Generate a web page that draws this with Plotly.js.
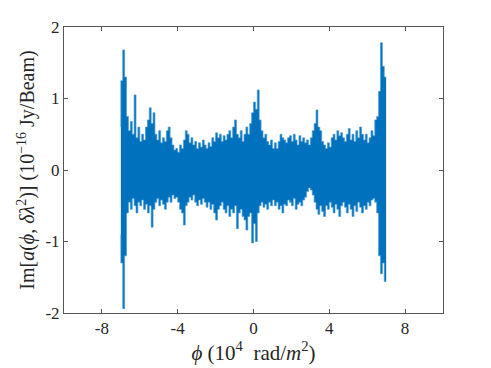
<!DOCTYPE html>
<html>
<head>
<meta charset="utf-8">
<script src="https://cdn.plot.ly/plotly-3.0.1.min.js"></script>
<style>
  html, body { margin: 0; padding: 0; background: #fff; }
  #plot { width: 491px; height: 368px; }
</style>
</head>
<body>
<div id="plot"></div>
<script>
// Faraday depth grid (10^4 rad/m^2), 0.1 step from -7 to 7
const phi = [
  -7.0, -6.9, -6.8, -6.7, -6.6, -6.5, -6.4, -6.3, -6.2, -6.1,
  -6.0, -5.9, -5.8, -5.7, -5.6, -5.5, -5.4, -5.3, -5.2, -5.1,
  -5.0, -4.9, -4.8, -4.7, -4.6, -4.5, -4.4, -4.3, -4.2, -4.1,
  -4.0, -3.9, -3.8, -3.7, -3.6, -3.5, -3.4, -3.3, -3.2, -3.1,
  -3.0, -2.9, -2.8, -2.7, -2.6, -2.5, -2.4, -2.3, -2.2, -2.1,
  -2.0, -1.9, -1.8, -1.7, -1.6, -1.5, -1.4, -1.3, -1.2, -1.1,
  -1.0, -0.9, -0.8, -0.7, -0.6, -0.5, -0.4, -0.3, -0.2, -0.1,
  0.0, 0.1, 0.2, 0.3, 0.4, 0.5, 0.6, 0.7, 0.8, 0.9,
  1.0, 1.1, 1.2, 1.3, 1.4, 1.5, 1.6, 1.7, 1.8, 1.9,
  2.0, 2.1, 2.2, 2.3, 2.4, 2.5, 2.6, 2.7, 2.8, 2.9,
  3.0, 3.1, 3.2, 3.3, 3.4, 3.5, 3.6, 3.7, 3.8, 3.9,
  4.0, 4.1, 4.2, 4.3, 4.4, 4.5, 4.6, 4.7, 4.8, 4.9,
  5.0, 5.1, 5.2, 5.3, 5.4, 5.5, 5.6, 5.7, 5.8, 5.9,
  6.0, 6.1, 6.2, 6.3, 6.4, 6.5, 6.6, 6.7, 6.8, 6.9,
  7.0
];

// upper / lower excursions of Im[a] (10^-16 Jy/Beam)
const upper = [
  0.6, 1.25, 1.68, 1.3, 0.75, 0.55, 0.68, 0.5, 1.05, 0.45,
  0.6, 0.4, 0.5, 0.42, 0.6, 0.7, 0.87, 0.65, 0.8, 0.5,
  0.42, 0.55, 0.38, 0.45, 0.4, 0.55, 0.6, 0.45, 0.35, 0.28,
  0.3, 0.25, 0.35, 0.3, 0.42, 0.55, 0.5, 0.38, 0.45, 0.35,
  0.4, 0.3, 0.38, 0.32, 0.42, 0.35, 0.3, 0.38, 0.33, 0.45,
  0.4, 0.52, 0.45, 0.5, 0.4, 0.48, 0.42, 0.5, 0.55, 0.45,
  0.6, 0.7, 0.5, 0.45, 0.55, 0.4, 0.5, 0.6, 0.5, 0.65,
  0.8, 0.95, 0.85, 1.12, 0.7, 0.55, 0.45, 0.5, 0.4, 0.35,
  0.42, 0.3, 0.38, 0.3, 0.4, 0.5, 0.45, 0.42, 0.38, 0.45,
  0.48, 0.4, 0.5, 0.42, 0.35, 0.48, 0.4, 0.45, 0.38, 0.42,
  0.35, 0.45, 0.55, 0.65, 0.84, 0.6, 0.55, 0.4, 0.35, 0.3,
  0.38, 0.32, 0.45, 0.5, 0.42, 0.55, 0.48, 0.52, 0.45, 0.4,
  0.5, 0.58, 0.42, 0.5, 0.4, 0.55, 0.45, 0.6, 0.5, 0.42,
  0.5, 0.38, 0.45, 0.55, 0.48, 0.7, 0.75, 1.1, 1.78, 1.45,
  1.3
];

const lower = [
  -0.9, -1.3, -1.94, -1.2, -0.6, -0.45, -0.55, -0.4, -0.5, -0.6,
  -0.45, -0.5, -0.42, -0.55, -0.48, -0.6, -0.5, -0.8, -0.55, -0.45,
  -0.4, -0.5, -0.42, -0.48, -0.55, -0.45, -0.38, -0.45, -0.35, -0.4,
  -0.38, -0.45, -0.55, -0.6, -0.77, -0.5, -0.45, -0.38, -0.42, -0.35,
  -0.45, -0.5, -0.42, -0.48, -0.4, -0.45, -0.52, -0.45, -0.55, -0.48,
  -0.6, -0.7, -0.55, -0.5, -0.45, -0.55, -0.6, -0.5, -0.65, -0.55,
  -0.6, -0.5, -0.82, -0.6, -0.55, -0.65, -0.7, -0.84, -0.65, -0.6,
  -1.02, -0.75, -1.0, -0.6, -0.5, -0.45, -0.52, -0.48, -0.55, -0.45,
  -0.5, -0.42, -0.5, -0.45, -0.55, -0.5, -0.6, -0.48, -0.5, -0.42,
  -0.45, -0.5, -0.4, -0.55, -0.48, -0.45, -0.5, -0.42, -0.38, -0.3,
  -0.25, -0.28, -0.35, -0.45, -0.55, -0.62, -0.5, -0.58, -0.65, -0.5,
  -0.55, -0.45, -0.52, -0.6, -0.48, -0.55, -0.65, -0.5, -0.45, -0.52,
  -0.6, -0.48, -0.55, -0.65, -0.5, -0.58, -0.45, -0.52, -0.6, -0.5,
  -0.55, -0.45, -0.5, -0.42, -0.4, -0.45, -0.6, -1.2, -1.45, -1.3,
  -1.56
];

const xTicks = [-8, -4, 0, 4, 8];
const yTicks = [-2, -1, 0, 1, 2];

// the noisy trace is drawn as its band: lower edge, then upper edge filled down to it;
// a step shape keeps each sample's excursion as a narrow column
const blue = '#0072BD';
const edge = '#4a9bd4';
const axisColor = '#555555';
const font = {family: 'Liberation Serif, Times New Roman, serif', color: '#262626'};

const data = [
    {x: phi, y: lower, mode: 'lines', line: {color: edge, width: 0.7, shape: 'vh'}, hoverinfo: 'skip'},
    {x: phi, y: upper, mode: 'lines', line: {color: edge, width: 0.7, shape: 'vh'},
     fill: 'tonexty', fillcolor: blue, hoverinfo: 'skip'}
];

const layout = {
    width: 491,
    height: 368,
    margin: {l: 64, r: 48, t: 27, b: 55},
    paper_bgcolor: '#fff',
    plot_bgcolor: '#fff',
    showlegend: false,
    font: Object.assign({size: 17}, font),
    xaxis: {
        range: [-10, 10],
        tickvals: xTicks,
        ticktext: xTicks.map(String),
        ticks: 'inside', ticklen: 4, tickcolor: axisColor,
        showline: true, mirror: 'ticks', linecolor: axisColor, linewidth: 1,
        showgrid: false, zeroline: false,
        title: {text: '<i>ϕ</i> (10<sup>4</sup>  rad/<i>m</i><sup>2</sup>)', font: Object.assign({size: 21}, font), standoff: 3}
    },
    yaxis: {
        range: [-2, 2],
        tickvals: yTicks,
        ticktext: yTicks.map(String),
        ticks: 'inside', ticklen: 4, tickcolor: axisColor,
        showline: true, mirror: 'ticks', linecolor: axisColor, linewidth: 1,
        showgrid: false, zeroline: false,
        title: {text: 'Im[<i>a</i>(<i>ϕ</i>, <i>δλ</i><sup>2</sup>)] (10<sup>−16</sup> Jy/Beam)', font: Object.assign({size: 20}, font), standoff: 5}
    }
};

Plotly.newPlot('plot', data, layout, {displayModeBar: false, staticPlot: true});
</script>
</body>
</html>
